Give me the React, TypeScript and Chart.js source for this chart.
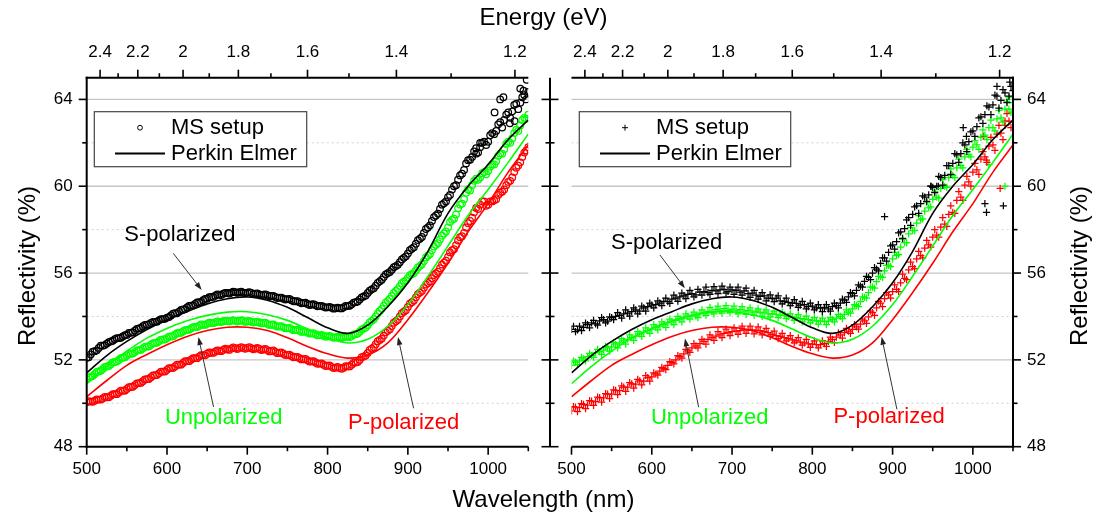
import React, { useEffect, useRef } from "react";
import { Chart, registerables } from "chart.js";

Chart.register(...registerables);

const FONT = '"Liberation Sans", Arial, Helvetica, sans-serif';
const BLACK = "#000000";
const GREEN = "#00ff00";
const RED = "#ff0000";
const COLORS = [BLACK, GREEN, RED];

// axes
const WL_MIN = 500;
const WL_MAX = 1050;
const R_MIN = 48;
const R_MAX = 65;
const EV_NM = 1240;
const WL_TICKS = [500, 600, 700, 800, 900, 1000];
const WL_MINOR = [550, 650, 750, 850, 950, 1050];
const E_TICKS = [2.4, 2.2, 2, 1.8, 1.6, 1.4, 1.2];
const E_MINOR = [2.3, 2.1, 1.9, 1.7, 1.5, 1.3];
const Y_TICKS = [48, 52, 56, 60, 64];
const Y_MINOR = [50, 54, 58, 62];
const Y_GRID = [52, 56, 60, 64];

// sampling of the series (nm)
const MS_START = 500;
const MS_START_B = 502.5;
const MS_STEP = 5;
const PE_START = 500;
const PE_STEP = 25;

// Perkin Elmer reference lines (same in both panels)
const PE_S = [51.4, 52.2, 52.85, 53.4, 53.85, 54.22, 54.58, 54.82, 54.9, 54.75, 54.42, 53.95, 53.48, 53.22, 53.6, 54.45, 55.55, 57.0, 58.75, 60.0, 61.0, 62.15, 63.05];
const PE_U = [50.9, 51.7, 52.4, 53.0, 53.45, 53.8, 54.05, 54.2, 54.22, 54.08, 53.82, 53.42, 53.02, 52.78, 52.95, 53.55, 54.55, 55.85, 57.25, 58.65, 59.85, 61.1, 62.4];
const PE_P = [50.3, 51.05, 51.75, 52.25, 52.7, 53.08, 53.35, 53.5, 53.5, 53.35, 53.02, 52.62, 52.28, 52.08, 52.22, 52.78, 53.85, 55.1, 56.45, 57.9, 59.2, 60.65, 61.9];

// MS setup, left panel (circles) – readings at 500,505,...,1050
const MS_L_S = [
  52.10, 52.25, 52.40, 52.55, 52.65, 52.75, 52.85, 52.95, 53.00, 53.08,
  53.15, 53.25, 53.35, 53.45, 53.55, 53.62, 53.70, 53.75, 53.82, 53.88,
  53.95, 54.05, 54.15, 54.22, 54.32, 54.42, 54.50, 54.58, 54.66, 54.75,
  54.82, 54.90, 54.96, 55.00, 55.05, 55.08, 55.10, 55.12, 55.12, 55.10,
  55.10, 55.08, 55.05, 55.02, 55.00, 54.98, 54.95, 54.90, 54.86, 54.82,
  54.80, 54.75, 54.70, 54.66, 54.62, 54.58, 54.55, 54.52, 54.48, 54.45,
  54.42, 54.40, 54.38, 54.38, 54.42, 54.48, 54.56, 54.66, 54.78, 54.92,
  55.08, 55.25, 55.42, 55.62, 55.82, 56.00, 56.15, 56.32, 56.50, 56.70,
  56.90, 57.12, 57.35, 57.58, 57.85, 58.10, 58.40, 58.65, 58.95, 59.22,
  59.50, 59.85, 60.05, 60.50, 60.75, 61.20, 61.35, 61.75, 61.80, 62.05,
  62.05, 62.45, 62.55, 62.95, 63.05, 63.40, 63.45, 63.80, 63.85, 64.20,
  64.35,
];
// readings at 502.5,507.5,...,1047.5
const MS_L_S_B = [
  52.12, 52.38, 52.44, 52.66, 52.68, 52.82, 52.88, 53.00, 53.02, 53.14,
  53.24, 53.27, 53.43, 53.47, 53.61, 53.63, 53.75, 53.76, 53.88, 53.89,
  53.97, 54.13, 54.15, 54.30, 54.34, 54.49, 54.51, 54.65, 54.67, 54.81,
  54.89, 54.90, 55.01, 54.99, 55.09, 55.06, 55.14, 55.09, 55.14, 55.07,
  55.12, 55.03, 55.06, 54.98, 55.02, 54.93, 54.95, 54.85, 54.87, 54.78,
  54.81, 54.70, 54.71, 54.61, 54.63, 54.53, 54.57, 54.47, 54.49, 54.41,
  54.44, 54.36, 54.41, 54.37, 54.48, 54.49, 54.64, 54.69, 54.88, 54.97,
  55.19, 55.30, 55.55, 55.69, 55.94, 56.05, 56.27, 56.38, 56.63, 56.77,
  57.05, 57.19, 57.52, 57.66, 58.03, 58.20, 58.58, 58.74, 59.15, 59.30,
  59.60, 60.00, 60.30, 60.58, 61.05, 61.22, 61.60, 61.55, 62.00, 61.90,
  62.35, 62.40, 62.85, 62.70, 63.30, 63.15, 63.75, 63.55, 64.10, 64.00,
];
const MS_L_U = [
  51.10, 51.22, 51.35, 51.47, 51.58, 51.70, 51.80, 51.90, 52.00, 52.10,
  52.20, 52.28, 52.36, 52.45, 52.53, 52.61, 52.70, 52.78, 52.86, 52.94,
  53.00, 53.08, 53.16, 53.24, 53.31, 53.38, 53.45, 53.52, 53.57, 53.62,
  53.66, 53.70, 53.73, 53.76, 53.78, 53.79, 53.80, 53.80, 53.80, 53.79,
  53.78, 53.76, 53.74, 53.72, 53.70, 53.66, 53.62, 53.58, 53.54, 53.50,
  53.46, 53.42, 53.38, 53.34, 53.30, 53.26, 53.22, 53.18, 53.14, 53.11,
  53.08, 53.06, 53.04, 53.03, 53.04, 53.06, 53.10, 53.18, 53.30, 53.44,
  53.60, 53.80, 54.00, 54.25, 54.50, 54.72, 54.95, 55.18, 55.40, 55.60,
  55.78, 55.95, 56.12, 56.32, 56.55, 56.80, 57.05, 57.30, 57.55, 57.82,
  58.10, 58.45, 58.70, 59.15, 59.40, 59.85, 60.05, 60.35, 60.40, 60.65,
  60.70, 61.00, 61.15, 61.50, 61.70, 62.05, 62.20, 62.60, 62.80, 63.15,
  63.30,
];
const MS_L_U_B = [
  51.19, 51.26, 51.44, 51.50, 51.67, 51.72, 51.88, 51.93, 52.08, 52.12,
  52.27, 52.29, 52.43, 52.46, 52.60, 52.62, 52.77, 52.79, 52.93, 52.94,
  53.07, 53.09, 53.23, 53.25, 53.37, 53.39, 53.51, 53.51, 53.63, 53.61,
  53.71, 53.69, 53.77, 53.74, 53.81, 53.77, 53.83, 53.77, 53.83, 53.75,
  53.80, 53.72, 53.76, 53.68, 53.71, 53.61, 53.63, 53.53, 53.55, 53.45,
  53.47, 53.37, 53.39, 53.29, 53.31, 53.21, 53.23, 53.13, 53.15, 53.07,
  53.10, 53.02, 53.07, 53.01, 53.08, 53.05, 53.17, 53.21, 53.40, 53.49,
  53.73, 53.87, 54.15, 54.35, 54.64, 54.81, 55.09, 55.26, 55.53, 55.66,
  55.90, 56.00, 56.26, 56.40, 56.72, 56.88, 57.22, 57.38, 57.72, 57.92,
  58.35, 58.50, 58.98, 59.20, 59.70, 59.80, 60.25, 60.30, 60.60, 60.55,
  60.90, 61.00, 61.40, 61.50, 61.95, 62.00, 62.45, 62.55, 63.05, 63.10,
];
const MS_L_P = [
  50.05, 50.08, 50.12, 50.17, 50.22, 50.28, 50.35, 50.42, 50.50, 50.58,
  50.66, 50.75, 50.84, 50.93, 51.02, 51.11, 51.20, 51.29, 51.38, 51.46,
  51.54, 51.62, 51.70, 51.78, 51.86, 51.94, 52.01, 52.08, 52.15, 52.22,
  52.28, 52.33, 52.38, 52.42, 52.46, 52.49, 52.52, 52.54, 52.55, 52.55,
  52.55, 52.54, 52.52, 52.50, 52.48, 52.45, 52.41, 52.37, 52.33, 52.28,
  52.23, 52.18, 52.13, 52.08, 52.03, 51.98, 51.93, 51.88, 51.83, 51.78,
  51.73, 51.68, 51.64, 51.62, 51.64, 51.70, 51.78, 51.88, 52.00, 52.15,
  52.32, 52.52, 52.72, 52.92, 53.12, 53.34, 53.56, 53.78, 54.00, 54.22,
  54.44, 54.66, 54.88, 55.10, 55.32, 55.54, 55.76, 55.98, 56.22, 56.48,
  56.74, 57.05, 57.28, 57.65, 57.85, 58.30, 58.55, 59.00, 59.15, 59.30,
  59.15, 59.30, 59.40, 59.70, 59.85, 60.20, 60.40, 60.85, 61.10, 61.55,
  61.80,
];
const MS_L_P_B = [
  50.10, 50.07, 50.18, 50.17, 50.29, 50.28, 50.42, 50.42, 50.58, 50.58,
  50.74, 50.76, 50.92, 50.94, 51.10, 51.12, 51.28, 51.30, 51.46, 51.46,
  51.62, 51.62, 51.78, 51.78, 51.94, 51.94, 52.08, 52.08, 52.22, 52.21,
  52.34, 52.32, 52.44, 52.40, 52.52, 52.46, 52.57, 52.50, 52.59, 52.51,
  52.58, 52.49, 52.55, 52.45, 52.50, 52.39, 52.43, 52.31, 52.34, 52.22,
  52.24, 52.12, 52.14, 52.02, 52.04, 51.92, 51.94, 51.82, 51.84, 51.72,
  51.74, 51.62, 51.67, 51.59, 51.71, 51.70, 51.87, 51.90, 52.12, 52.20,
  52.46, 52.58, 52.86, 52.98, 53.27, 53.41, 53.71, 53.85, 54.15, 54.29,
  54.59, 54.73, 55.03, 55.17, 55.47, 55.61, 55.91, 56.06, 56.39, 56.57,
  56.95, 57.10, 57.50, 57.70, 58.10, 58.40, 58.80, 58.95, 59.30, 59.10,
  59.30, 59.35, 59.60, 59.75, 60.05, 60.25, 60.65, 60.95, 61.35, 61.65,
];
const L_S_OUT_X = [985, 990, 1008, 1015, 1019, 1027, 1033, 1040, 1044, 1048];
const L_S_OUT_Y = [61.5, 62.0, 63.4, 64.0, 64.1, 62.9, 63.0, 64.5, 64.4, 64.9];

// MS setup, right panel (crosses)
const MS_R_S = [
  53.40, 53.30, 53.55, 53.50, 53.62, 53.70, 53.66, 53.80, 53.85, 53.78,
  53.95, 54.00, 54.05, 54.12, 54.15, 54.22, 54.30, 54.25, 54.40, 54.45,
  54.52, 54.55, 54.62, 54.70, 54.68, 54.80, 54.85, 54.90, 54.95, 55.02,
  55.05, 55.00, 55.12, 55.15, 55.10, 55.20, 55.18, 55.22, 55.25, 55.15,
  55.22, 55.20, 55.12, 55.18, 55.05, 55.08, 54.98, 54.92, 54.95, 54.85,
  54.82, 54.85, 54.72, 54.70, 54.65, 54.62, 54.60, 54.52, 54.55, 54.45,
  54.48, 54.40, 54.38, 54.42, 54.35, 54.45, 54.50, 54.62, 54.75, 54.90,
  55.05, 55.20, 55.40, 55.62, 55.80, 56.00, 56.18, 56.45, 56.70, 56.95,
  57.30, 57.45, 57.90, 58.05, 58.55, 58.70, 59.10, 59.20, 59.50, 59.60,
  59.95, 60.00, 60.40, 60.50, 60.95, 61.05, 61.45, 61.50, 61.90, 62.05,
  62.55, 62.75, 63.20, 63.30, 63.65, 63.75, 64.15, 63.95, 64.30, 64.15,
  64.40,
];
const MS_R_S_B = [
  53.55, 53.38, 53.35, 53.70, 53.48, 53.82, 53.60, 53.95, 53.70, 53.98,
  53.85, 54.18, 53.92, 54.30, 54.02, 54.40, 54.12, 54.48, 54.25, 54.62,
  54.40, 54.72, 54.50, 54.85, 54.60, 54.98, 54.70, 55.08, 54.82, 55.20,
  54.90, 55.25, 54.98, 55.35, 55.02, 55.38, 55.05, 55.40, 55.08, 55.35,
  55.02, 55.35, 54.98, 55.30, 54.88, 55.20, 54.80, 55.10, 54.72, 55.00,
  54.68, 54.95, 54.58, 54.85, 54.50, 54.78, 54.42, 54.70, 54.35, 54.62,
  54.30, 54.55, 54.22, 54.55, 54.25, 54.62, 54.40, 54.80, 54.65, 55.10,
  54.95, 55.45, 55.35, 55.85, 55.70, 56.25, 56.10, 56.70, 56.55, 57.25,
  57.10, 57.85, 57.60, 58.45, 58.20, 59.05, 58.75, 59.55, 59.30, 60.00,
  59.70, 60.45, 60.05, 60.95, 60.55, 61.50, 61.10, 62.00, 61.60, 62.50,
  62.30, 63.15, 62.90, 63.70, 63.30, 64.20, 63.60, 64.45, 63.85, 64.60,
];
const MS_R_U = [
  51.75, 51.90, 51.95, 52.05, 52.15, 52.20, 52.32, 52.38, 52.45, 52.55,
  52.60, 52.72, 52.78, 52.88, 52.95, 53.02, 53.10, 53.20, 53.28, 53.35,
  53.42, 53.50, 53.55, 53.62, 53.70, 53.75, 53.82, 53.88, 53.92, 54.00,
  54.05, 54.02, 54.15, 54.15, 54.24, 54.22, 54.32, 54.26, 54.36, 54.28,
  54.34, 54.26, 54.31, 54.25, 54.28, 54.20, 54.25, 54.18, 54.20, 54.12,
  54.12, 54.10, 54.06, 54.05, 54.00, 53.98, 53.95, 53.90, 53.88, 53.85,
  53.82, 53.80, 53.78, 53.76, 53.78, 53.85, 53.92, 54.00, 54.10, 54.20,
  54.35, 54.50, 54.68, 54.88, 55.10, 55.35, 55.60, 55.85, 56.10, 56.35,
  56.65, 56.80, 57.20, 57.40, 57.80, 57.95, 58.30, 58.45, 58.85, 59.00,
  59.40, 59.50, 59.90, 60.00, 60.40, 60.50, 60.85, 60.95, 61.35, 61.45,
  61.80, 61.90, 62.25, 62.35, 62.70, 62.70, 63.10, 63.15, 63.55, 63.55,
  63.85,
];
const MS_R_U_B = [
  51.95, 51.78, 52.12, 51.95, 52.30, 52.12, 52.48, 52.25, 52.62, 52.40,
  52.80, 52.55, 52.98, 52.72, 53.15, 52.90, 53.30, 53.08, 53.48, 53.22,
  53.62, 53.38, 53.75, 53.50, 53.88, 53.62, 54.00, 53.75, 54.12, 53.88,
  54.20, 53.95, 54.30, 54.05, 54.42, 54.12, 54.48, 54.15, 54.50, 54.18,
  54.48, 54.12, 54.45, 54.10, 54.40, 54.05, 54.35, 54.00, 54.30, 53.98,
  54.25, 53.95, 54.20, 53.90, 54.12, 53.82, 54.08, 53.75, 54.02, 53.70,
  53.95, 53.65, 53.92, 53.62, 53.95, 53.75, 54.10, 53.90, 54.30, 54.15,
  54.55, 54.45, 54.90, 54.85, 55.35, 55.30, 55.85, 55.80, 56.35, 56.30,
  56.95, 56.85, 57.55, 57.40, 58.10, 57.95, 58.65, 58.50, 59.25, 59.05,
  59.75, 59.45, 60.30, 59.95, 60.80, 60.40, 61.25, 60.85, 61.70, 61.35,
  62.10, 61.70, 62.60, 62.15, 63.05, 62.55, 63.50, 62.95, 63.90, 63.40,
];
const MS_R_P = [
  49.65, 49.82, 49.80, 49.95, 49.92, 50.10, 50.08, 50.26, 50.25, 50.42,
  50.42, 50.60, 50.58, 50.75, 50.74, 50.90, 50.88, 51.03, 51.02, 51.18,
  51.22, 51.35, 51.48, 51.60, 51.75, 51.88, 52.00, 52.15, 52.28, 52.42,
  52.55, 52.65, 52.75, 52.85, 52.95, 53.02, 53.10, 53.15, 53.22, 53.25,
  53.30, 53.32, 53.35, 53.38, 53.38, 53.38, 53.36, 53.35, 53.30, 53.25,
  53.18, 53.12, 53.08, 53.02, 52.98, 52.92, 52.88, 52.82, 52.78, 52.74,
  52.72, 52.70, 52.70, 52.75, 52.85, 52.95, 53.05, 53.15, 53.25, 53.32,
  53.40, 53.52, 53.65, 53.80, 53.98, 54.18, 54.40, 54.62, 54.82, 55.00,
  55.15, 55.25, 55.55, 55.75, 56.15, 56.30, 56.65, 56.80, 57.15, 57.30,
  57.65, 57.75, 58.12, 58.25, 58.70, 58.80, 59.35, 59.50, 60.05, 60.20,
  60.65, 60.75, 61.25, 61.35, 61.85, 61.90, 62.40, 62.45, 63.00, 63.00,
  63.40,
];
const MS_R_P_B = [
  49.85, 49.62, 49.98, 49.75, 50.12, 49.90, 50.28, 50.05, 50.45, 50.22,
  50.62, 50.40, 50.80, 50.55, 50.95, 50.70, 51.10, 50.85, 51.28, 51.02,
  51.40, 51.30, 51.65, 51.55, 51.92, 51.82, 52.20, 52.08, 52.48, 52.35,
  52.75, 52.55, 52.95, 52.72, 53.15, 52.90, 53.30, 53.02, 53.42, 53.12,
  53.48, 53.18, 53.55, 53.22, 53.55, 53.20, 53.52, 53.15, 53.45, 53.08,
  53.32, 52.98, 53.22, 52.88, 53.12, 52.78, 53.02, 52.68, 52.95, 52.58,
  52.88, 52.55, 52.88, 52.62, 53.05, 52.80, 53.25, 53.00, 53.45, 53.22,
  53.62, 53.42, 53.88, 53.68, 54.25, 54.05, 54.70, 54.45, 55.10, 54.85,
  55.45, 55.15, 55.95, 55.70, 56.50, 56.20, 57.00, 56.70, 57.50, 57.20,
  58.00, 57.65, 58.55, 58.15, 59.10, 58.75, 59.75, 59.35, 60.45, 60.00,
  61.05, 60.55, 61.60, 61.10, 62.25, 61.65, 62.80, 62.15, 63.35, 62.70,
];
const R_S_OUT_X = [890, 948, 957, 988, 992, 1015, 1017, 1038, 1030, 1046];
const R_S_OUT_Y = [58.6, 60.0, 60.0, 62.7, 62.3, 59.2, 58.8, 59.1, 64.6, 64.8];
const R_U_OUT_X = [1020, 1040, 1045];
const R_U_OUT_Y = [61.0, 60.0, 64.1];
const R_P_OUT_X = [1013, 1017, 1034, 1040];
const R_P_OUT_Y = [62.3, 61.2, 59.9, 62.8];

// annotation anchors in data units [text x(nm), text y(%), arrow from x,y, arrow to x,y]
const NOTE_TEXT = ["S-polarized", "Unpolarized", "P-polarized"];
const NOTE_L = [
  [546.8, 57.75, 607.8, 56.91, 643.2, 55.22],
  [597.5, 49.31, 658.0, 49.83, 639.2, 53.05],
  [825.4, 49.11, 907.1, 49.77, 887.7, 53.05],
];
const NOTE_R = [
  [549.2, 57.37, 610.2, 56.83, 641.3, 55.3],
  [599.0, 49.31, 658.4, 49.82, 641.3, 52.99],
  [826.3, 49.35, 905.4, 49.72, 886.3, 53.06],
];
const LEGEND_LABELS = ["MS setup", "Perkin Elmer"];

const W = 1093;
const H = 520;

const pts = (vals: number[], start: number, step: number) =>
  vals.map((v, i) => ({ x: start + i * step, y: v }));
const pairs = (xs: number[], ys: number[]) => xs.map((x, i) => ({ x, y: ys[i] }));

function drawArrow(ctx: CanvasRenderingContext2D, x1: number, y1: number, x2: number, y2: number) {
  ctx.save();
  ctx.strokeStyle = "#333";
  ctx.fillStyle = "#222";
  ctx.lineWidth = 1;
  const ang = Math.atan2(y2 - y1, x2 - x1);
  const L = 8;
  const Wd = 2.8;
  const bx = x2 - L * Math.cos(ang);
  const by = y2 - L * Math.sin(ang);
  ctx.beginPath();
  ctx.moveTo(x1, y1);
  ctx.lineTo(bx, by);
  ctx.stroke();
  ctx.beginPath();
  ctx.moveTo(x2, y2);
  ctx.lineTo(bx + Wd * Math.sin(ang), by - Wd * Math.cos(ang));
  ctx.lineTo(bx - Wd * Math.sin(ang), by + Wd * Math.cos(ang));
  ctx.closePath();
  ctx.fill();
  ctx.restore();
}

function seg(ctx: CanvasRenderingContext2D, x1: number, y1: number, x2: number, y2: number) {
  ctx.beginPath();
  ctx.moveTo(x1, y1);
  ctx.lineTo(x2, y2);
  ctx.stroke();
}

function makePlugin(side: "L" | "R") {
  const notes = side === "L" ? NOTE_L : NOTE_R;
  return {
    id: "frame" + side,
    beforeDatasetsDraw(chart: any) {
      const { ctx, chartArea: a, scales } = chart;
      const ys = scales.y;
      ctx.save();
      ctx.strokeStyle = "#c6c6c6";
      ctx.lineWidth = 1.3;
      for (const v of Y_GRID) {
        const py = ys.getPixelForValue(v);
        seg(ctx, a.left, py, a.right, py);
      }
      ctx.setLineDash([2, 3]);
      ctx.strokeStyle = "#d2d2d2";
      ctx.lineWidth = 1;
      for (const v of Y_MINOR) {
        const py = ys.getPixelForValue(v);
        seg(ctx, a.left, py, a.right, py);
      }
      ctx.restore();
    },
    afterDraw(chart: any) {
      const { ctx, chartArea: a, scales } = chart;
      const xs = scales.x;
      const ys = scales.y;
      ctx.save();
      ctx.strokeStyle = "#000";
      ctx.lineCap = "butt";
      // axis lines
      ctx.lineWidth = 2;
      seg(ctx, a.left - (side === "L" ? 1 : 0), a.bottom, a.right + (side === "R" ? 1 : 0), a.bottom);
      seg(ctx, a.left - (side === "L" ? 1 : 0), a.top, a.right + (side === "R" ? 1 : 0), a.top);
      const yAxisX = side === "L" ? a.left : a.right;
      seg(ctx, yAxisX, a.top - 1, yAxisX, a.bottom + 1);
      // ticks
      ctx.lineWidth = 1.6;
      for (const v of WL_TICKS) {
        const px = xs.getPixelForValue(v);
        seg(ctx, px, a.bottom, px, a.bottom + 8);
      }
      for (const v of WL_MINOR) {
        const px = xs.getPixelForValue(v);
        seg(ctx, px, a.bottom, px, a.bottom + 4.5);
      }
      for (const e of E_TICKS) {
        const px = xs.getPixelForValue(EV_NM / e);
        seg(ctx, px, a.top, px, a.top - 8);
      }
      for (const e of E_MINOR) {
        const px = xs.getPixelForValue(EV_NM / e);
        seg(ctx, px, a.top, px, a.top - 4.5);
      }
      const dir = side === "L" ? -1 : 1;
      for (const v of Y_TICKS) {
        const py = ys.getPixelForValue(v);
        seg(ctx, yAxisX, py, yAxisX + dir * 8, py);
      }
      for (const v of Y_MINOR) {
        const py = ys.getPixelForValue(v);
        seg(ctx, yAxisX, py, yAxisX + dir * 4.5, py);
      }
      if (side === "R") {
        // free-standing axis between the panels
        const fx = a.left - 21.5;
        ctx.lineWidth = 2;
        seg(ctx, fx, a.top, fx, a.bottom);
        ctx.lineWidth = 1.6;
        for (const v of Y_TICKS) {
          const py = ys.getPixelForValue(v);
          seg(ctx, fx - 8.5, py, fx + 8.5, py);
        }
        for (const v of Y_MINOR) {
          const py = ys.getPixelForValue(v);
          seg(ctx, fx - 4.5, py, fx + 4.5, py);
        }
      }
      // legend
      const bx = a.left + (side === "L" ? 7.6 : 7.8);
      const bw = side === "L" ? 212.4 : 211.4;
      const by = a.top + 34;
      const bh = 55;
      ctx.fillStyle = "#fff";
      ctx.fillRect(bx, by, bw, bh);
      ctx.strokeStyle = "#444";
      ctx.lineWidth = 1.2;
      ctx.strokeRect(bx, by, bw, bh);
      const mx = bx + 45.7;
      const r1 = by + 16;
      const r2 = by + 41.8;
      ctx.strokeStyle = "#000";
      ctx.lineWidth = 1;
      if (side === "L") {
        ctx.beginPath();
        ctx.arc(mx, r1, 2.4, 0, Math.PI * 2);
        ctx.stroke();
      } else {
        seg(ctx, mx - 3, r1, mx + 3, r1);
        seg(ctx, mx, r1 - 3, mx, r1 + 3);
      }
      ctx.lineWidth = 1.8;
      seg(ctx, bx + 20.7, r2, bx + 70.7, r2);
      ctx.fillStyle = "#000";
      ctx.font = `22px ${FONT}`;
      ctx.textBaseline = "middle";
      ctx.textAlign = "left";
      ctx.fillText(LEGEND_LABELS[0], bx + 76.7, r1);
      ctx.fillText(LEGEND_LABELS[1], bx + 76.7, r2);
      // annotations
      notes.forEach((n, k) => {
        ctx.fillStyle = COLORS[k];
        ctx.font = `22px ${FONT}`;
        ctx.textBaseline = "middle";
        ctx.textAlign = "left";
        ctx.fillText(NOTE_TEXT[k], xs.getPixelForValue(n[0]), ys.getPixelForValue(n[1]));
        drawArrow(
          ctx,
          xs.getPixelForValue(n[2]),
          ys.getPixelForValue(n[3]),
          xs.getPixelForValue(n[4]),
          ys.getPixelForValue(n[5])
        );
      });
      // titles
      ctx.fillStyle = "#000";
      ctx.font = `24px ${FONT}`;
      ctx.textAlign = "center";
      ctx.textBaseline = "middle";
      if (side === "L") {
        ctx.fillText("Energy (eV)", 543.5, 18);
        ctx.fillText("Wavelength (nm)", 543.5, 500);
        ctx.save();
        ctx.translate(28, 266);
        ctx.rotate(-Math.PI / 2);
        ctx.fillText("Reflectivity (%)", 0, 0);
        ctx.restore();
      } else {
        ctx.save();
        ctx.translate(1080, 266);
        ctx.rotate(-Math.PI / 2);
        ctx.fillText("Reflectivity (%)", 0, 0);
        ctx.restore();
      }
      ctx.restore();
    },
  };
}

function buildDatasets(side: "L" | "R") {
  const style = side === "L" ? "circle" : "cross";
  const radius = side === "L" ? 3.3 : 3.6;
  const ms =
    side === "L"
      ? [[MS_L_S, MS_L_S_B], [MS_L_U, MS_L_U_B], [MS_L_P, MS_L_P_B]]
      : [[MS_R_S, MS_R_S_B], [MS_R_U, MS_R_U_B], [MS_R_P, MS_R_P_B]];
  const out =
    side === "L"
      ? [[L_S_OUT_X, L_S_OUT_Y, 0]]
      : [
          [R_S_OUT_X, R_S_OUT_Y, 0],
          [R_U_OUT_X, R_U_OUT_Y, 1],
          [R_P_OUT_X, R_P_OUT_Y, 2],
        ];
  const ds: any[] = [];
  [PE_S, PE_U, PE_P].forEach((vals, k) => {
    ds.push({
      label: "Perkin Elmer",
      data: pts(vals, PE_START, PE_STEP),
      showLine: true,
      borderColor: COLORS[k],
      borderWidth: 1.6,
      pointRadius: 0,
      fill: false,
      tension: 0.35,
    });
  });
  const markerDs = (data: any[], k: number) => ({
    label: "MS setup",
    data,
    showLine: false,
    pointStyle: style,
    pointRadius: radius,
    pointBorderColor: COLORS[k],
    pointBackgroundColor: "rgba(0,0,0,0)",
    pointBorderWidth: 1.25,
  });
  ms.forEach((pair, k) =>
    ds.push(markerDs(pts(pair[0], MS_START, MS_STEP).concat(pts(pair[1], MS_START_B, MS_STEP)), k))
  );
  out.forEach((o: any) => ds.push(markerDs(pairs(o[0], o[1]), o[2])));
  return ds;
}

function buildOptions(side: "L" | "R") {
  const tickFont = { family: FONT, size: 17 };
  const padding =
    side === "L"
      ? { left: 36.7, right: 564.7, top: 37.7, bottom: 33.3 }
      : { left: 571.5, right: 30, top: 37.7, bottom: 33.3 };
  return {
    responsive: false,
    maintainAspectRatio: false,
    animation: false,
    devicePixelRatio: 1,
    events: [],
    layout: { padding },
    plugins: { legend: { display: false }, tooltip: { enabled: false } },
    scales: {
      x: {
        type: "linear",
        position: "bottom",
        min: WL_MIN,
        max: WL_MAX,
        grid: { display: false, drawTicks: false },
        border: { display: false },
        afterBuildTicks: (s: any) => {
          s.ticks = WL_TICKS.map((v) => ({ value: v }));
        },
        afterFit: (s: any) => {
          s.height = 40;
        },
        ticks: {
          padding: 12,
          color: "#000",
          font: tickFont,
          autoSkip: false,
          maxRotation: 0,
          callback: (v: any) => String(v),
        },
      },
      xTop: {
        type: "linear",
        position: "top",
        min: WL_MIN,
        max: WL_MAX,
        grid: { display: false, drawTicks: false },
        border: { display: false },
        afterBuildTicks: (s: any) => {
          s.ticks = E_TICKS.map((e) => ({ value: EV_NM / e }));
        },
        afterFit: (s: any) => {
          s.height = 40;
        },
        ticks: {
          padding: 15,
          color: "#000",
          font: tickFont,
          autoSkip: false,
          maxRotation: 0,
          callback: (_v: any, i: number) => String(E_TICKS[i]),
        },
      },
      y: {
        type: "linear",
        position: side === "L" ? "left" : "right",
        min: R_MIN,
        max: R_MAX,
        grid: { display: false, drawTicks: false },
        border: { display: false },
        afterBuildTicks: (s: any) => {
          s.ticks = Y_TICKS.map((v) => ({ value: v }));
        },
        afterFit: (s: any) => {
          s.width = 50;
        },
        ticks: {
          padding: 14,
          color: "#000",
          font: tickFont,
          autoSkip: false,
          callback: (v: any) => String(v),
        },
      },
    },
  };
}

function Panel({ side }: { side: "L" | "R" }) {
  const ref = useRef<HTMLCanvasElement | null>(null);
  useEffect(() => {
    if (!ref.current) return;
    const chart = new Chart(ref.current, {
      type: "scatter",
      data: { datasets: buildDatasets(side) },
      options: buildOptions(side) as any,
      plugins: [makePlugin(side) as any],
    });
    return () => chart.destroy();
  }, [side]);
  return (
    <canvas
      ref={ref}
      width={W}
      height={H}
      style={{ position: "absolute", left: 0, top: 0, width: W, height: H, display: "block" }}
    />
  );
}

export default function App() {
  return (
    <div
      style={{
        position: "fixed",
        left: 0,
        top: 0,
        width: W,
        height: H,
        background: "#fff",
        overflow: "hidden",
      }}
    >
      <Panel side="L" />
      <Panel side="R" />
    </div>
  );
}
